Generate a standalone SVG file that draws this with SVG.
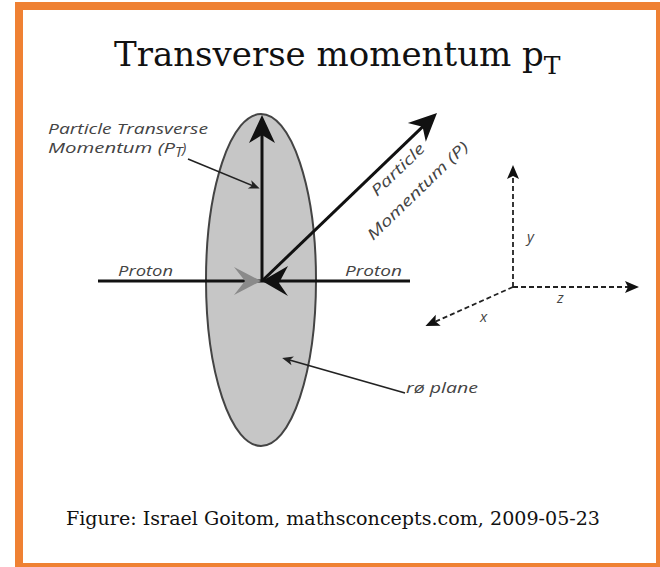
<svg xmlns="http://www.w3.org/2000/svg" width="660" height="567" viewBox="0 0 660 567">
<style>
.lbl{font-family:"Open Sans","DejaVu Sans",sans-serif;font-style:italic;font-size:15px;fill:#444}
.ser{font-family:"DejaVu Serif","Liberation Serif",serif;fill:#111}
.ln{stroke:#111;stroke-width:3;fill:none}
.ld{stroke:#222;stroke-width:1.6;fill:none}
.ax{stroke:#222;stroke-width:1.8;fill:none;stroke-dasharray:5 3}
</style>
<defs>
<marker id="big" markerUnits="userSpaceOnUse" viewBox="-20 -15 32 30" markerWidth="32" markerHeight="30" refX="0" refY="0" orient="auto">
<path d="M10,0 L-18,-13 L-10,0 L-18,13 Z" fill="#111"/>
</marker>
<marker id="sm" markerUnits="userSpaceOnUse" viewBox="-10 -6 16 12" markerWidth="16" markerHeight="12" refX="0" refY="0" orient="auto">
<path d="M4,0 L-7,-4.5 L-4,0 L-7,4.5 Z" fill="#222"/>
</marker>
<marker id="axm" markerUnits="userSpaceOnUse" viewBox="-12 -8 20 16" markerWidth="20" markerHeight="16" refX="0" refY="0" orient="auto">
<path d="M5,0 L-9,-6 L-6,0 L-9,6 Z" fill="#111"/>
</marker>
</defs>
<rect x="0" y="0" width="660" height="567" fill="#fff"/>
<rect id="frame" x="19" y="6" width="641" height="561" fill="none" stroke="#ef8133" stroke-width="8"/>
<g id="title">
<text class="ser" x="114" y="66" font-size="34">Transverse momentum p<tspan font-size="25" dy="8">T</tspan></text>
</g>
<g id="plane">
<ellipse cx="261" cy="280" rx="55" ry="166" fill="#c6c6c6" stroke="#444" stroke-width="2"/>
</g>
<g id="connectors">
<line class="ln" x1="98" y1="281" x2="410" y2="281" stroke-width="2.6"/>
<line class="ln" x1="262" y1="281" x2="262" y2="125" marker-end="url(#big)"/>
<line class="ln" x1="262" y1="281" x2="429.8" y2="119.9" marker-end="url(#big)"/>
<polygon points="261,281 234,267 245,281 234,295" fill="#8a8a8a"/>
<polygon points="262,281 288,266 279,283 288,296" fill="#111"/>
<line class="ld" x1="188" y1="159" x2="256" y2="187" marker-end="url(#sm)"/>
<line class="ld" x1="405" y1="393" x2="286" y2="359" marker-end="url(#sm)"/>
<line class="ax" x1="513" y1="287" x2="513" y2="170" marker-end="url(#axm)"/>
<line class="ax" x1="513" y1="287" x2="634" y2="287" marker-end="url(#axm)"/>
<line class="ax" x1="513" y1="287" x2="430" y2="324" marker-end="url(#axm)"/>
</g>
<g id="labels">
<text class="lbl" x="48" y="134" textLength="160" lengthAdjust="spacingAndGlyphs">Particle Transverse</text>
<text class="lbl" x="48" y="153" textLength="127" lengthAdjust="spacingAndGlyphs">Momentum (P</text>
<text class="lbl" x="175" y="157" font-size="11">T</text>
<text class="lbl" x="182" y="153">)</text>
<text class="lbl" x="118" y="276" textLength="55" lengthAdjust="spacingAndGlyphs">Proton</text>
<text class="lbl" x="345" y="276" textLength="57" lengthAdjust="spacingAndGlyphs">Proton</text>
<text class="lbl" transform="translate(377,197) rotate(-44)" textLength="68" lengthAdjust="spacingAndGlyphs">Particle</text>
<text class="lbl" transform="translate(373,241) rotate(-44)" textLength="134" lengthAdjust="spacingAndGlyphs">Momentum (P)</text>
<text class="lbl" x="406" y="393" textLength="72" lengthAdjust="spacingAndGlyphs">rø plane</text>
<text class="lbl" x="527" y="242">y</text>
<text class="lbl" x="557" y="303">z</text>
<text class="lbl" x="480" y="322">x</text>
</g>
<g id="caption">
<text class="ser" x="66" y="525" font-size="18" textLength="534" lengthAdjust="spacingAndGlyphs">Figure: Israel Goitom, mathsconcepts.com, 2009-05-23</text>
</g>
</svg>
